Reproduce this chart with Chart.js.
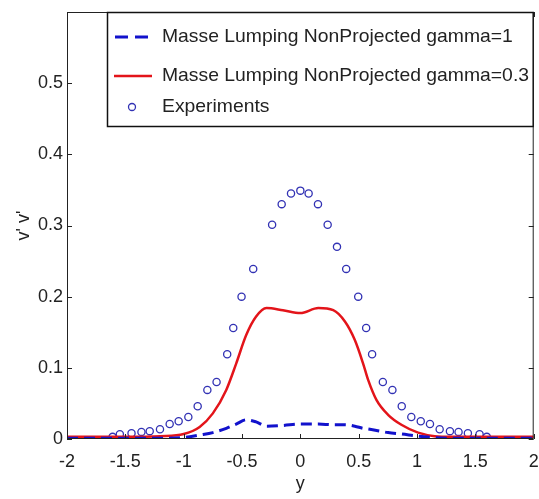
<!DOCTYPE html>
<html>
<head>
<meta charset="utf-8">
<script src="https://cdn.jsdelivr.net/npm/chart.js@4.4.0/dist/chart.umd.min.js"></script>
<style>
  body { margin: 0; background: #fff; }
  #wrap { width: 539px; height: 499px; }
</style>
</head>
<body>
<div id="wrap"><canvas id="myChart" width="539" height="499"></canvas></div>
<script>
// simulation curves, sampled along y
const lineX = [-2, -1.5, -1.2, -1.0, -0.863, -0.75, -0.635, -0.55, -0.464, -0.379, -0.29, -0.15, 0,
  0.154, 0.282, 0.382, 0.467, 0.538, 0.581, 0.652, 0.752, 0.866, 1.009, 1.151, 1.3, 1.6, 2]
const gamma1 = [0.001, 0.001, 0.001, 0.002, 0.0056, 0.009, 0.015, 0.021, 0.027, 0.024, 0.018, 0.019, 0.021,
  0.021, 0.020, 0.020, 0.018, 0.015, 0.014, 0.012, 0.009, 0.007, 0.004, 0.002, 0.001, 0.001, 0.001]
const gamma03 = [0.003, 0.003, 0.004, 0.007, 0.017, 0.036, 0.069, 0.106, 0.146, 0.172, 0.184, 0.181, 0.177,
  0.184, 0.181, 0.165, 0.139, 0.106, 0.083, 0.055, 0.034, 0.020, 0.009, 0.004, 0.003, 0.003, 0.003]

// experiments
const expX = [-1.609, -1.547, -1.447, -1.362, -1.291, -1.203, -1.120, -1.043, -0.960, -0.880, -0.797, -0.718,
  -0.627, -0.575, -0.504, -0.404, -0.242, -0.160, -0.080, 0.000, 0.071, 0.151, 0.234, 0.314, 0.393,
  0.496, 0.564, 0.615, 0.707, 0.789, 0.869, 0.951, 1.032, 1.111, 1.194, 1.282, 1.356, 1.436, 1.536, 1.598]
const expY = [0.003, 0.0066, 0.008, 0.010, 0.011, 0.0136, 0.021, 0.025, 0.031, 0.046, 0.069, 0.080,
  0.119, 0.156, 0.200, 0.239, 0.301, 0.330, 0.345, 0.349, 0.345, 0.330, 0.301, 0.270, 0.239,
  0.200, 0.156, 0.119, 0.080, 0.069, 0.046, 0.031, 0.025, 0.021, 0.0136, 0.011, 0.010, 0.008, 0.0066, 0.003]

const xTicks = [-2, -1.5, -1, -0.5, 0, 0.5, 1, 1.5, 2]
const yTicks = [0, 0.1, 0.2, 0.3, 0.4, 0.5]
const seriesNames = ['Masse Lumping NonProjected gamma=1', 'Masse Lumping NonProjected gamma=0.3', 'Experiments']

const FONT = '"Liberation Sans", sans-serif'
const BLUE = '#1212cc'
const RED = '#e3141a'
const CIRC = '#3232b4'

const toPts = (xs, ys) => xs.map((x, i) => ({ x: x, y: ys[i] }))

// box + inward ticks like matlab
const framePlugin = {
  id: 'frame',
  afterDatasetsDraw(chart) {
    const { ctx, chartArea: a, scales } = chart
    ctx.save()
    ctx.strokeStyle = '#222'
    ctx.lineWidth = 1
    ctx.strokeRect(a.left + 0.5, a.top + 0.5, a.right - a.left - 1, a.bottom - a.top - 1)
    ctx.beginPath()
    xTicks.forEach(v => {
      const px = Math.round(scales.x.getPixelForValue(v)) + 0.5
      ctx.moveTo(px, a.bottom); ctx.lineTo(px, a.bottom - 5)
      ctx.moveTo(px, a.top); ctx.lineTo(px, a.top + 5)
    })
    yTicks.forEach(v => {
      const py = Math.round(scales.y.getPixelForValue(v)) + 0.5
      ctx.moveTo(a.left, py); ctx.lineTo(a.left + 5, py)
      ctx.moveTo(a.right, py); ctx.lineTo(a.right - 5, py)
    })
    ctx.stroke()
    ctx.restore()
  },
  afterDraw(chart) {
    const { ctx, chartArea: a } = chart
    const lx = 107, ly = a.top, lw = a.right - lx, lh = 115
    ctx.save()
    ctx.fillStyle = '#fff'
    ctx.fillRect(lx, ly, lw, lh)
    ctx.strokeStyle = '#111'
    ctx.lineWidth = 1.5
    ctx.strokeRect(lx + 0.5, ly + 0.5, lw - 1, lh - 1)
    const rows = [ly + 25, ly + 64, ly + 95]
    // dashed blue
    ctx.strokeStyle = BLUE
    ctx.lineWidth = 3
    ctx.setLineDash([13, 7])
    ctx.beginPath(); ctx.moveTo(115, rows[0]); ctx.lineTo(150, rows[0]); ctx.stroke()
    ctx.setLineDash([])
    ctx.strokeStyle = RED
    ctx.lineWidth = 2.5
    ctx.beginPath(); ctx.moveTo(114, rows[1]); ctx.lineTo(152, rows[1]); ctx.stroke()
    ctx.strokeStyle = CIRC
    ctx.lineWidth = 1.3
    ctx.beginPath(); ctx.arc(132, rows[2], 3.5, 0, Math.PI * 2); ctx.stroke()
    ctx.font = '19px "Liberation Sans"'
    ctx.fillStyle = '#222'
    ctx.textBaseline = 'middle'
    const sx = 367 / ctx.measureText(seriesNames[1]).width
    seriesNames.forEach((s, i) => {
      ctx.save()
      ctx.translate(162, rows[i])
      ctx.scale(sx, 1)
      ctx.fillText(s, 0, 0)
      ctx.restore()
    })
    ctx.restore()
  }
}

function generateGraph() {
  const ctx = document.getElementById('myChart').getContext('2d')
  const tickFont = { family: FONT, size: 18 }
  new Chart(ctx, {
    type: 'scatter',
    data: {
      datasets: [
        {
          label: seriesNames[0],
          data: toPts(lineX, gamma1),
          showLine: true,
          borderColor: BLUE,
          borderWidth: 3,
          borderDash: [11, 6],
          pointRadius: 0,
          cubicInterpolationMode: 'monotone',
        },
        {
          label: seriesNames[1],
          data: toPts(lineX, gamma03),
          showLine: true,
          borderColor: RED,
          borderWidth: 2.5,
          pointRadius: 0,
          cubicInterpolationMode: 'monotone',
        },
        {
          label: seriesNames[2],
          data: toPts(expX, expY),
          showLine: false,
          pointRadius: 3.6,
          pointBorderWidth: 1.3,
          pointBorderColor: CIRC,
          pointBackgroundColor: 'rgba(0,0,0,0)',
        },
      ],
    },
    options: {
      responsive: false,
      animation: false,
      layout: { padding: { top: 12, right: 4, left: 0, bottom: 0 } },
      plugins: { legend: { display: false }, tooltip: { enabled: false } },
      scales: {
        x: {
          type: 'linear',
          min: -2,
          max: 2,
          grid: { display: false, drawTicks: false },
          border: { display: false },
          ticks: {
            stepSize: 0.5,
            font: tickFont,
            color: '#222',
            padding: 12,
            maxRotation: 0,
            callback: v => String(Math.round(v * 10) / 10),
          },
          title: { display: true, text: 'y', font: tickFont, color: '#222', padding: { top: 14 } },
          afterFit: s => { s.height = 60; s.paddingLeft = 0; s.paddingRight = 0 },
        },
        y: {
          min: 0,
          max: 0.6,
          grid: { display: false, drawTicks: false },
          border: { display: false },
          ticks: {
            stepSize: 0.1,
            font: tickFont,
            color: '#222',
            padding: 4,
            callback: v => (v > 0.55 ? '' : String(Math.round(v * 10) / 10)),
          },
          title: { display: true, text: "v' v'", font: tickFont, color: '#222', padding: { top: 13 } },
          afterFit: s => { s.width = 67; s.paddingTop = 0; s.paddingBottom = 0 },
        },
      },
    },
    plugins: [framePlugin],
  })
}

generateGraph()
</script>
</body>
</html>
